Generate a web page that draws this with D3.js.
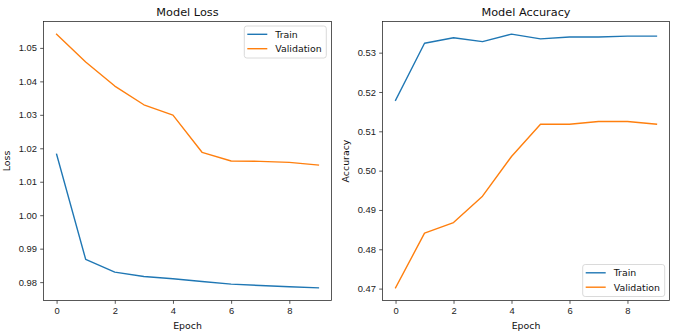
<!DOCTYPE html>
<html>
<head>
<meta charset="utf-8">
<script src="https://cdn.jsdelivr.net/npm/d3@7"></script>
<style>
  body { margin: 0; background: #fff; }
  svg { display: block; font-family: "DejaVu Sans", sans-serif; }
  .tick text { font-size: 9.4px; fill: #222; }
</style>
</head>
<body>
<svg id="chart" width="676" height="334"></svg>
<script>
// training history, one value per epoch
var epochs = [0, 1, 2, 3, 4, 5, 6, 7, 8, 9];
var trainLoss = [1.0182, 0.9868, 0.9830, 0.9817, 0.9810, 0.9802, 0.9794, 0.9790, 0.9786, 0.9783];
var valLoss = [1.0541, 1.0458, 1.0386, 1.0330, 1.0299, 1.0188, 1.0162, 1.0161, 1.0158, 1.0150];
var trainAcc = [0.5179, 0.5324, 0.5338, 0.5328, 0.5347, 0.5335, 0.5340, 0.5340, 0.5342, 0.5342];
var valAcc = [0.4702, 0.4841, 0.4868, 0.4935, 0.5036, 0.5118, 0.5118, 0.5125, 0.5125, 0.5118];
var xTicks = [0, 2, 4, 6, 8];
var lossTicks = [0.98, 0.99, 1.00, 1.01, 1.02, 1.03, 1.04, 1.05];
var accTicks = [0.47, 0.48, 0.49, 0.50, 0.51, 0.52, 0.53];
var seriesNames = ["Train", "Validation"];
var colors = ["#1f77b4", "#ff7f0e"];

var svg = d3.select("#chart");

/*
drawPanel()
    one matplotlib-style subplot: frame, ticks, two lines, legend
 */
function drawPanel(opt) {
    var g = svg.append("g");
    var x = d3.scaleLinear().domain([-0.45, 9.45]).range([opt.left, opt.right]);
    var all = opt.series[0].concat(opt.series[1]);
    var lo = d3.min(all), hi = d3.max(all), pad = (hi - lo) * 0.05;
    var y = d3.scaleLinear().domain([lo - pad, hi + pad]).range([opt.bottom, opt.top]);

    g.append("g")
        .attr("transform", "translate(0," + opt.bottom + ")")
        .call(d3.axisBottom(x).tickValues(xTicks).tickSize(3.3).tickPadding(3.3).tickFormat(d3.format("d")))
        .call(function(a) { a.select(".domain").remove(); a.selectAll("line").attr("stroke", "#222").attr("stroke-width", 0.75); });

    g.append("g")
        .attr("transform", "translate(" + opt.left + ",0)")
        .call(d3.axisLeft(y).tickValues(opt.ticks).tickSize(3.3).tickPadding(3.3).tickFormat(d3.format(".2f")))
        .call(function(a) { a.select(".domain").remove(); a.selectAll("line").attr("stroke", "#222").attr("stroke-width", 0.75); });

    var line = d3.line().x(function(d, i) { return x(epochs[i]); }).y(function(d) { return y(d); });
    opt.series.forEach(function(s, i) {
        g.append("path").datum(s)
            .attr("d", line)
            .attr("fill", "none")
            .attr("stroke", colors[i])
            .attr("stroke-width", 1.4)
            .attr("stroke-linejoin", "round")
            .attr("stroke-linecap", "square");
    });

    g.append("rect")
        .attr("x", opt.left).attr("y", opt.top)
        .attr("width", opt.right - opt.left).attr("height", opt.bottom - opt.top)
        .attr("fill", "none").attr("stroke", "#222").attr("stroke-width", 0.75);

    g.append("text")
        .attr("x", (opt.left + opt.right) / 2).attr("y", opt.top - 5.5)
        .attr("text-anchor", "middle").attr("font-size", 11.3).attr("fill", "#111")
        .text(opt.title);

    g.append("text")
        .attr("x", (opt.left + opt.right) / 2).attr("y", 328.5)
        .attr("text-anchor", "middle").attr("font-size", 9.4).attr("fill", "#111")
        .text("Epoch");

    g.append("text")
        .attr("transform", "translate(" + opt.ylabelX + "," + ((opt.top + opt.bottom) / 2) + ") rotate(-90)")
        .attr("text-anchor", "middle").attr("font-size", 9.4).attr("fill", "#111")
        .text(opt.ylabel);

    // legend box
    var lg = g.append("g").attr("transform", "translate(" + opt.legend[0] + "," + opt.legend[1] + ")");
    lg.append("rect")
        .attr("width", 82).attr("height", 32).attr("rx", 2.5)
        .attr("fill", "#fff").attr("fill-opacity", 0.8)
        .attr("stroke", "#d0d0d0").attr("stroke-width", 0.8);
    seriesNames.forEach(function(name, i) {
        var yy = 8.3 + i * 14.4;
        lg.append("line").attr("x1", 3).attr("x2", 23).attr("y1", yy).attr("y2", yy)
            .attr("stroke", colors[i]).attr("stroke-width", 1.4);
        lg.append("text").attr("x", 31).attr("y", yy + 3.4)
            .attr("font-size", 9.4).attr("fill", "#111").text(name);
    });
}

drawPanel({
    left: 43.5, right: 331.5, top: 21.5, bottom: 300.5,
    series: [trainLoss, valLoss], ticks: lossTicks,
    title: "Model Loss", ylabel: "Loss", ylabelX: 10,
    legend: [244.3, 26]
});

drawPanel({
    left: 382.5, right: 669.5, top: 21.5, bottom: 300.5,
    series: [trainAcc, valAcc], ticks: accTicks,
    title: "Model Accuracy", ylabel: "Accuracy", ylabelX: 349,
    legend: [582.7, 264.5]
});
</script>
</body>
</html>
